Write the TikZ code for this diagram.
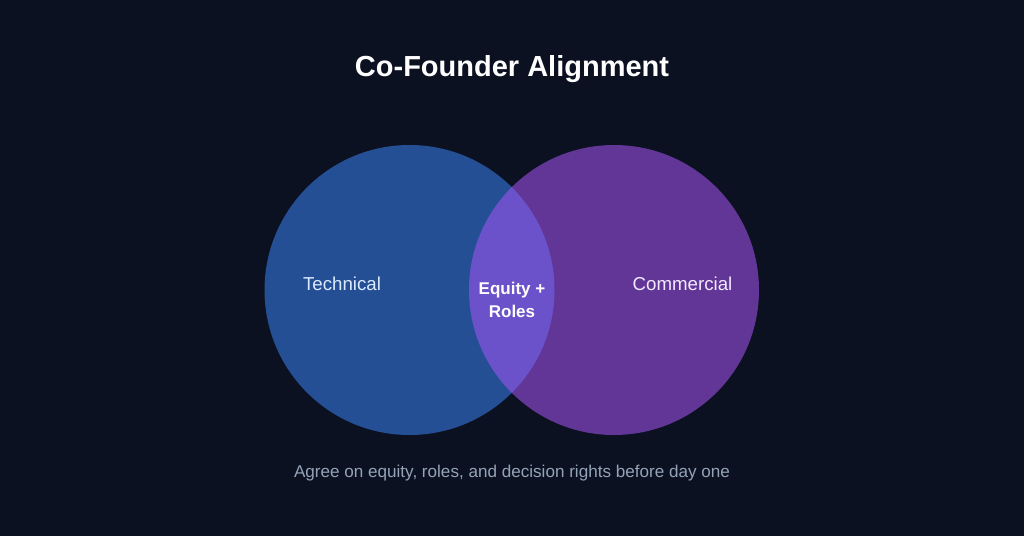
\documentclass[tikz,border=0pt]{standalone}
\usepackage{fontspec}
\setmainfont{Liberation Sans}
\usepackage{xcolor}
\definecolor{bg}{HTML}{0B1120}
\definecolor{techblue}{HTML}{3B82F6}
\definecolor{compurple}{HTML}{A855F7}
\definecolor{subgray}{HTML}{94A3B8}
\definecolor{techtext}{HTML}{DBEAFE}
\definecolor{comtext}{HTML}{F3E8FF}
\tikzset{
	setcircle/.style = {circle, minimum size=290pt, inner sep=0pt, fill opacity=0.55},
	setlabel/.style = {font=\fontsize{18.7}{22}\selectfont, anchor=base}
}

\begin{document}
\begin{tikzpicture}[x=1pt, y=-1pt]
		\fill[bg] (0,0) rectangle (1024,536);
		\useasboundingbox (0,0) rectangle (1024,536);
		\node[font=\bfseries\fontsize{29}{32}\selectfont, text=white, anchor=base] (title) at (512,76) {Co-Founder Alignment};
		\node[setcircle, fill=techblue] (tech) at (409.5,290) {};
		\node[setcircle, fill=compurple] (com) at (614,290) {};
		\node[setlabel, text=techtext] (techlabel) at (342,290) {Technical};
		\node[setlabel, text=comtext] (comlabel) at (682.5,290) {Commercial};
		\node[font=\bfseries\fontsize{17}{23}\selectfont, text=white, align=center, inner sep=0pt] (overlap) at (512,300) {Equity +\\Roles};
		\node[font=\fontsize{17.1}{20}\selectfont, text=subgray, anchor=base] (note) at (512,477) {Agree on equity, roles, and decision rights before day one};
	\end{tikzpicture}
\end{document}
